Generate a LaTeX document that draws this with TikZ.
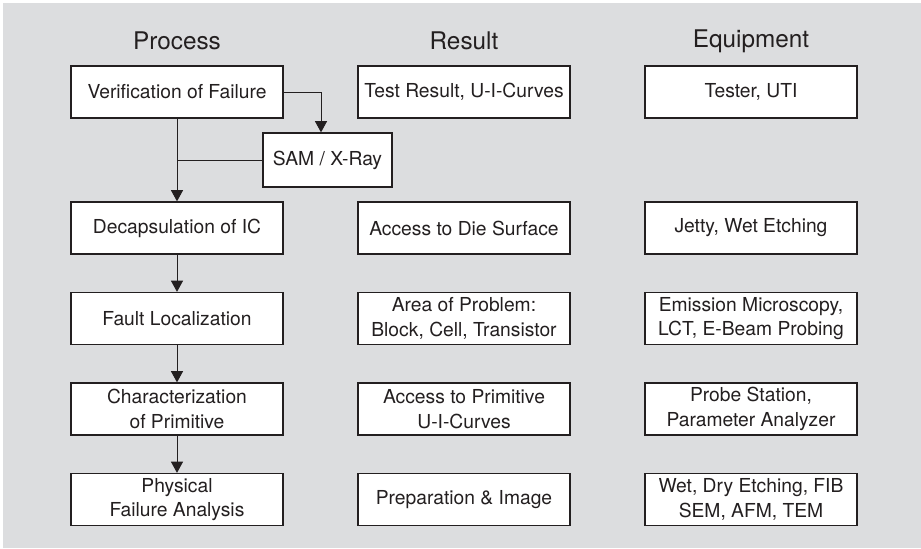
\documentclass[tikz,border=0pt]{standalone}
\usepackage{fontspec}
\setmainfont{TeX Gyre Heros}
\usepackage{tikz}
\usetikzlibrary{arrows.meta,positioning,calc}
\usepackage{xcolor}
\definecolor{panelgray}{RGB}{220,221,223}
\definecolor{inkgray}{RGB}{35,31,32}

\begin{document}
\begin{tikzpicture}[
    box/.style={rectangle, draw=inkgray, line width=0.9pt, fill=white, text=inkgray,
        minimum width=5.3cm, minimum height=1.3cm, align=center, inner sep=2pt,
        font=\fontsize{13.7}{17.5}\selectfont},
    head/.style={text=inkgray, font=\fontsize{17.3}{20}\selectfont},
    arr/.style={-{Triangle[length=2.8mm, width=3mm]}, line width=0.7pt, inkgray}]

    % Background
    \useasboundingbox (0,0) rectangle (23.025,-13.7);
    \fill[panelgray] (0.075,-0.075) rectangle (23.025,-13.7);

    % Headings
    \node[head] (hproc) at (4.425,-1.02) {Process};
    \node[head] (hres) at (11.6,-1.02) {Result};
    \node[head] (hequ) at (18.775,-1.02) {Equipment};

    % Process
    \node[box] (p1) at (4.425,-2.3) {Verification of Failure};
    \node[box, minimum width=3.225cm, minimum height=1.35cm] (sam) at (8.1875,-4.0) {SAM / X-Ray};
    \node[box] (p2) at (4.425,-5.7) {Decapsulation of IC};
    \node[box] (p3) at (4.425,-7.9625) {Fault Localization};
    \node[box] (p4) at (4.425,-10.225) {Characterization\\of Primitive};
    \node[box] (p5) at (4.425,-12.4875) {Physical\\Failure Analysis};

    % Result
    \node[box] (r1) at (11.6,-2.3) {Test Result, U-I-Curves};
    \node[box] (r2) at (11.6,-5.7) {Access to Die Surface};
    \node[box] (r3) at (11.6,-7.9625) {Area of Problem:\\Block, Cell, Transistor};
    \node[box] (r4) at (11.6,-10.225) {Access to Primitive\\U-I-Curves};
    \node[box] (r5) at (11.6,-12.4875) {Preparation \& Image};

    % Equipment
    \node[box] (e1) at (18.775,-2.3) {Tester, UTI};
    \node[box] (e2) at (18.775,-5.7) {Jetty, Wet Etching};
    \node[box] (e3) at (18.775,-7.9625) {Emission Microscopy,\\LCT, E-Beam Probing};
    \node[box] (e4) at (18.775,-10.225) {Probe Station,\\Parameter Analyzer};
    \node[box] (e5) at (18.775,-12.4875) {Wet, Dry Etching, FIB\\SEM, AFM, TEM};

    % Connections
    \coordinate (turn) at (8.025,-2.3);
    \coordinate (join) at (4.425,-4.0);
    \draw[arr] (p1.east) -- (turn) -- (turn |- sam.north);
    \draw[line width=0.7pt, inkgray] (sam.west) -- (join);
    \foreach \i/\j in {p1/p2,p2/p3,p3/p4,p4/p5} {
        \draw[arr] (\i) -- (\j);
    }
\end{tikzpicture}
\end{document}
